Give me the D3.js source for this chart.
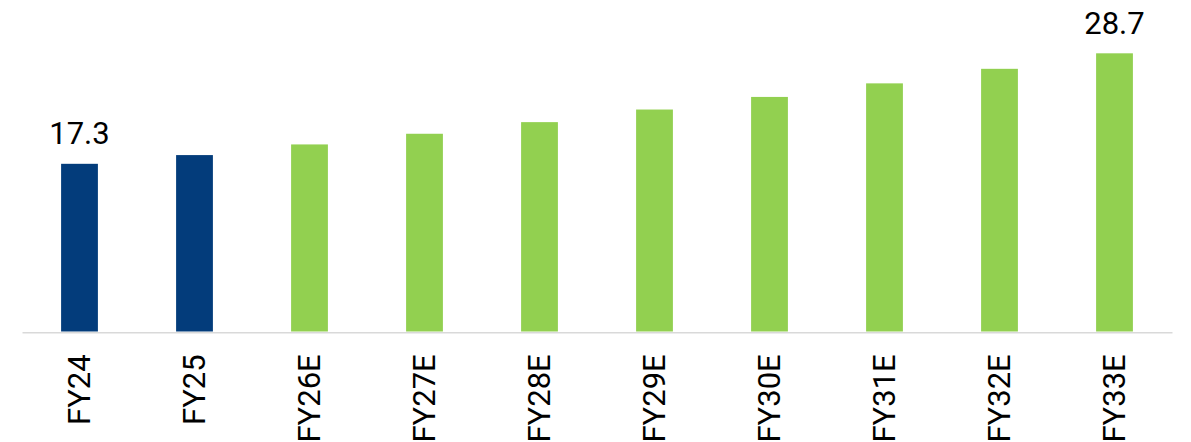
<!DOCTYPE html>
<html>
<head>
<meta charset="utf-8">
<script src="https://cdn.jsdelivr.net/npm/d3@7/dist/d3.min.js"></script>
<style>
  html, body { margin: 0; padding: 0; background: #ffffff; }
  svg { display: block; font-family: Roboto, "Noto Sans", Arial, sans-serif; }
</style>
</head>
<body>
<svg id="chart" width="1191" height="442"></svg>
<script>
// Fiscal years: actuals followed by estimates
const categories = ["FY24", "FY25", "FY26E", "FY27E", "FY28E", "FY29E", "FY30E", "FY31E", "FY32E", "FY33E"];
const values = [17.3, 18.2, 19.3, 20.4, 21.6, 22.9, 24.2, 25.6, 27.1, 28.7];
const isEstimate = [false, false, true, true, true, true, true, true, true, true];
// Only the first and last bars carry a value label
const labelledIndices = [0, 9];

const svg = d3.select("#chart");
const baseline = 331.5;

const x = d3.scaleBand()
  .domain(categories)
  .range([22, 1172])
  .paddingInner(0.68)
  .paddingOuter(0.34);

const y = d3.scaleLinear()
  .domain([0, 34.2])
  .range([baseline, 0]);

const rows = categories.map((c, i) => ({ cat: c, value: values[i], est: isEstimate[i], i }));

// Bars
svg.append("g")
  .selectAll("rect")
  .data(rows)
  .join("rect")
  .attr("x", d => x(d.cat))
  .attr("y", d => y(d.value))
  .attr("width", x.bandwidth())
  .attr("height", d => y(0) - y(d.value))
  .attr("fill", d => d.est ? "#92d050" : "#033c7b");

// Category axis
const xAxis = d3.axisBottom(x).tickSize(0).tickPadding(0);
const gx = svg.append("g")
  .attr("transform", `translate(0,${baseline + 0.8})`)
  .call(xAxis);
gx.select(".domain").attr("stroke", "#d9d9d9").attr("stroke-width", 1.6);
gx.selectAll(".tick text")
  .attr("font-size", 31)
  .attr("fill", "#000")
  .attr("font-family", "Roboto, sans-serif")
  .attr("text-anchor", "end")
  .attr("transform", "translate(0,22) rotate(-90)")
  .attr("x", 0)
  .attr("y", 0)
  .attr("dy", "0.35em");

// Value labels
svg.append("g")
  .selectAll("text")
  .data(rows.filter(d => labelledIndices.includes(d.i)))
  .join("text")
  .attr("x", d => x(d.cat) + x.bandwidth() / 2)
  .attr("y", d => y(d.value) - 19.5)
  .attr("text-anchor", "middle")
  .attr("font-size", 31)
  .attr("fill", "#000")
  .text(d => d.value.toFixed(1));
</script>
</body>
</html>
